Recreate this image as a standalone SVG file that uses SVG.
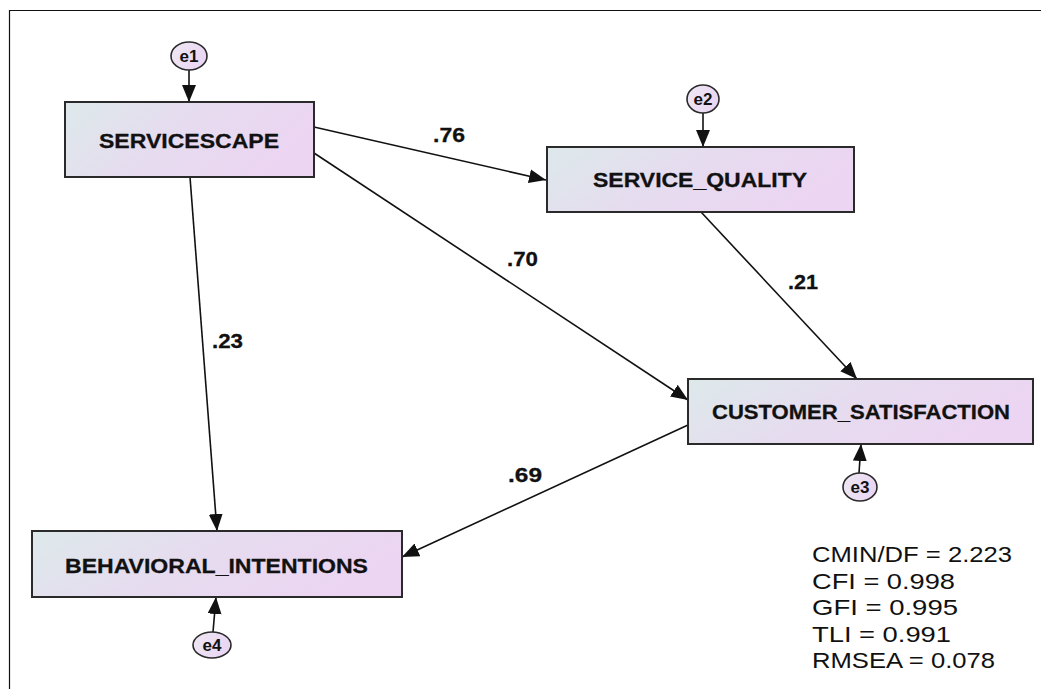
<svg xmlns="http://www.w3.org/2000/svg" width="1041" height="689" viewBox="0 0 1041 689">
<style>
.box{stroke:#2a2a2a;stroke-width:2;fill:url(#gBox)}
.err{stroke:#2a2a2a;stroke-width:1.6;fill:url(#gErr)}
.nt{font-family:"Liberation Sans",Arial,sans-serif;font-weight:bold;font-size:21px;fill:#111;stroke:#111;stroke-width:0.3;text-anchor:start}
.et{font-family:"Liberation Sans",Arial,sans-serif;font-weight:bold;font-size:17px;fill:#111;text-anchor:middle}
.lbl{font-family:"Liberation Sans",Arial,sans-serif;font-weight:bold;font-size:21px;fill:#111;stroke:#111;stroke-width:0.3}
.fit{font-family:"Liberation Sans",Arial,sans-serif;font-size:22px;fill:#111}
.edge{stroke:#111;stroke-width:1.6;fill:none;marker-end:url(#arr)}
</style>
<defs>
<linearGradient id="gBox" x1="0" y1="0" x2="1" y2="0.3">
<stop offset="0" stop-color="#dde9eb"/>
<stop offset="0.5" stop-color="#e6dcef"/>
<stop offset="1" stop-color="#ecd5f2"/>
</linearGradient>
<linearGradient id="gErr" x1="0" y1="0" x2="1" y2="0.3">
<stop offset="0" stop-color="#eee8f3"/>
<stop offset="1" stop-color="#ead6f3"/>
</linearGradient>
<marker id="arr" markerUnits="userSpaceOnUse" markerWidth="19" markerHeight="15" refX="17" refY="7" orient="auto">
<path d="M0,0 L17,7 L0,14 Z" fill="#111"/>
</marker>
</defs>
<rect x="0" y="0" width="1041" height="689" fill="#fff"/>
<path d="M9.5,689 L9.5,10.5 L1041,10.5" stroke="#111" stroke-width="1.2" fill="none"/>

<g id="connectors">
<line class="edge" x1="189" y1="70" x2="189" y2="102"/>
<line class="edge" x1="703" y1="113" x2="703" y2="147"/>
<line class="edge" x1="859" y1="473" x2="861" y2="444"/>
<line class="edge" x1="213" y1="632" x2="216" y2="597"/>
<line class="edge" x1="314" y1="127" x2="546" y2="180"/>
<line class="edge" x1="314" y1="153" x2="688" y2="400"/>
<line class="edge" x1="190" y1="177" x2="217" y2="531"/>
<line class="edge" x1="701" y1="212" x2="857" y2="379"/>
<line class="edge" x1="688" y1="425" x2="402" y2="557"/>
</g>

<g id="labels">
<text class="lbl" x="433" y="142" textLength="32" lengthAdjust="spacingAndGlyphs">.76</text>
<text class="lbl" x="507" y="266" textLength="31" lengthAdjust="spacingAndGlyphs">.70</text>
<text class="lbl" x="212" y="348" textLength="31" lengthAdjust="spacingAndGlyphs">.23</text>
<text class="lbl" x="788" y="289" textLength="30" lengthAdjust="spacingAndGlyphs">.21</text>
<text class="lbl" x="508" y="482" textLength="34" lengthAdjust="spacingAndGlyphs">.69</text>
</g>

<g id="servicescape">
<rect class="box" x="65" y="102" width="249" height="75"/>
<text class="nt" x="99" y="148" textLength="180" lengthAdjust="spacingAndGlyphs">SERVICESCAPE</text>
</g>
<g id="service_quality">
<rect class="box" x="547" y="147" width="307" height="65"/>
<text class="nt" x="593" y="187" textLength="214" lengthAdjust="spacingAndGlyphs">SERVICE_QUALITY</text>
</g>
<g id="customer_satisfaction">
<rect class="box" x="688" y="379" width="345" height="65"/>
<text class="nt" x="712" y="419" textLength="298" lengthAdjust="spacingAndGlyphs">CUSTOMER_SATISFACTION</text>
</g>
<g id="behavioral_intentions">
<rect class="box" x="32" y="531" width="370" height="66"/>
<text class="nt" x="65" y="573" textLength="303" lengthAdjust="spacingAndGlyphs">BEHAVIORAL_INTENTIONS</text>
</g>

<g id="e1">
<ellipse class="err" cx="189" cy="56" rx="18" ry="14"/>
<text class="et" x="189" y="62">e1</text>
</g>
<g id="e2">
<ellipse class="err" cx="703" cy="99" rx="16" ry="14"/>
<text class="et" x="703" y="105">e2</text>
</g>
<g id="e3">
<ellipse class="err" cx="860" cy="487" rx="17" ry="14"/>
<text class="et" x="860" y="493">e3</text>
</g>
<g id="e4">
<ellipse class="err" cx="212" cy="645" rx="19" ry="13"/>
<text class="et" x="212" y="651">e4</text>
</g>

<g id="fit">
<text class="fit" x="812" y="562" textLength="200" lengthAdjust="spacingAndGlyphs">CMIN/DF = 2.223</text>
<text class="fit" x="812" y="588.5" textLength="143" lengthAdjust="spacingAndGlyphs">CFI = 0.998</text>
<text class="fit" x="812" y="615" textLength="146" lengthAdjust="spacingAndGlyphs">GFI = 0.995</text>
<text class="fit" x="812" y="641.5" textLength="139" lengthAdjust="spacingAndGlyphs">TLI = 0.991</text>
<text class="fit" x="812" y="668" textLength="183" lengthAdjust="spacingAndGlyphs">RMSEA = 0.078</text>
</g>
</svg>
